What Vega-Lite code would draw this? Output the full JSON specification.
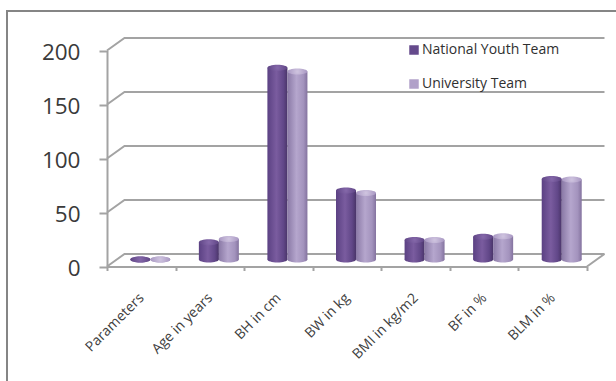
{
  "$schema": "https://vega.github.io/schema/vega-lite/v6.json",
  "width": 620,
  "height": 380,
  "autosize": {"type": "none"},
  "padding": {"left": 7, "top": 11, "right": 0, "bottom": 0},
  "background": "white",
  "config": {
    "view": {"stroke": "#858585", "strokeWidth": 2},
    "font": "Open Sans"
  },
  "datasets": {
    "scores": [
      {"parameter": "Parameters", "team": "National Youth Team", "value": 0},
      {"parameter": "Age in years", "team": "National Youth Team", "value": 16},
      {"parameter": "BH in cm", "team": "National Youth Team", "value": 177.5},
      {"parameter": "BW in kg", "team": "National Youth Team", "value": 64},
      {"parameter": "BMI in kg/m2", "team": "National Youth Team", "value": 18},
      {"parameter": "BF in %", "team": "National Youth Team", "value": 21},
      {"parameter": "BLM in %", "team": "National Youth Team", "value": 74.5},
      {"parameter": "Parameters", "team": "University Team", "value": 0},
      {"parameter": "Age in years", "team": "University Team", "value": 19},
      {"parameter": "BH in cm", "team": "University Team", "value": 174},
      {"parameter": "BW in kg", "team": "University Team", "value": 61.5},
      {"parameter": "BMI in kg/m2", "team": "University Team", "value": 18},
      {"parameter": "BF in %", "team": "University Team", "value": 21.5},
      {"parameter": "BLM in %", "team": "University Team", "value": 74}
    ],
    "walls": [
      {"line": "g0", "pos": 0, "level": 0}, {"line": "g0", "pos": 0.255, "level": 11.57}, {"line": "g0", "pos": 7.255, "level": 11.57},
      {"line": "g50", "pos": 0, "level": 50}, {"line": "g50", "pos": 0.255, "level": 61.57}, {"line": "g50", "pos": 7.255, "level": 61.57},
      {"line": "g100", "pos": 0, "level": 100}, {"line": "g100", "pos": 0.255, "level": 111.57}, {"line": "g100", "pos": 7.255, "level": 111.57},
      {"line": "g150", "pos": 0, "level": 150}, {"line": "g150", "pos": 0.255, "level": 161.57}, {"line": "g150", "pos": 7.255, "level": 161.57},
      {"line": "g200", "pos": 0, "level": 200}, {"line": "g200", "pos": 0.255, "level": 211.57}, {"line": "g200", "pos": 7.255, "level": 211.57},
      {"line": "floor", "pos": 7, "level": 0}, {"line": "floor", "pos": 7.255, "level": 11.57}
    ]
  },
  "resolve": {"scale": {"x": "independent"}, "axis": {"x": "independent"}},
  "layer": [
    {
      "data": {"name": "walls"},
      "mark": {"type": "line", "stroke": "#a3a3a3", "strokeWidth": 2},
      "encoding": {
        "x": {"field": "pos", "type": "quantitative", "axis": null, "scale": {"domain": [0, 7], "range": [100, 580], "nice": false, "zero": false}},
        "y": {
          "field": "level", "type": "quantitative",
          "scale": {"domain": [0, 200], "range": [255.5, 39.5], "nice": false},
          "axis": {
            "title": null, "values": [0, 50, 100, 150, 200], "offset": -100, "grid": false,
            "domainColor": "#a3a3a3", "domainWidth": 2, "tickColor": "#a3a3a3", "tickWidth": 2, "tickSize": 8,
            "labelFontSize": 22.5, "labelColor": "#3a3a3a", "labelPadding": 19, "labelFont": "Open Sans", "labelOffset": 2
          }
        },
        "detail": {"field": "line"}
      }
    },
    {
      "data": {"name": "scores"},
      "encoding": {
        "x": {
          "field": "parameter", "type": "nominal", "sort": null,
          "scale": {"range": [100, 580], "paddingInner": 0, "paddingOuter": 0},
          "axis": {
            "title": null, "offset": -124.5, "labelAngle": -45, "labelAlign": "right", "labelBaseline": "middle",
            "labelFontSize": 14, "labelColor": "#404040", "labelPadding": 25, "labelFont": "Open Sans", "labelLimit": 200,
            "domainColor": "#a3a3a3", "domainWidth": 2, "tickColor": "#a3a3a3", "tickWidth": 2, "tickSize": 4,
            "tickBand": "extent"
          }
        }
      },
      "layer": [
        {
          "transform": [{"filter": "datum.team === 'National Youth Team'"}],
          "mark": {"type": "bar", "width": 19, "xOffset": -1, "yOffset": -7, "y2Offset": -7},
          "encoding": {
            "y": {"field": "value", "type": "quantitative"},
            "color": {
              "field": "team", "type": "nominal",
              "scale": {"domain": ["National Youth Team", "University Team"], "range": ["#654a8c", "#b1a1c9"]},
              "legend": {
                "title": null, "orient": "none", "legendX": 400, "legendY": 32, "symbolType": "square", "symbolSize": 90,
                "labelFontSize": 14, "labelColor": "#303030", "labelFont": "Open Sans", "rowPadding": 20, "labelLimit": 200, "symbolStrokeWidth": 0,
                "labelOffset": 1
              }
            }
          }
        },
        {
          "transform": [{"filter": "datum.team === 'National Youth Team'"}],
          "mark": {
            "type": "point", "shape": "M-1,0A1,0.3,0,1,1,1,0A1,0.3,0,1,1,-1,0Z", "size": 400, "filled": true, "opacity": 1, "xOffset": -1, "yOffset": -7,
            "fill": {"gradient": "linear", "x1": 0, "y1": 0, "x2": 1, "y2": 0, "stops": [
              {"offset": 0, "color": "#5b4183"}, {"offset": 0.45, "color": "#7a5c9f"}, {"offset": 0.8, "color": "#614788"}, {"offset": 1, "color": "#4a3569"}
            ]}
          },
          "encoding": {"y": {"datum": 0}}
        },
        {
          "transform": [{"filter": "datum.team === 'National Youth Team'"}],
          "mark": {
            "type": "bar", "width": 20, "xOffset": -1, "yOffset": -7, "y2Offset": -7,
            "fill": {"gradient": "linear", "x1": 0, "y1": 0, "x2": 1, "y2": 0, "stops": [
              {"offset": 0, "color": "#5b4183"}, {"offset": 0.45, "color": "#7a5c9f"}, {"offset": 0.8, "color": "#614788"}, {"offset": 1, "color": "#4a3569"}
            ]}
          },
          "encoding": {"y": {"field": "value", "type": "quantitative"}}
        },
        {
          "transform": [{"filter": "datum.team === 'National Youth Team'"}],
          "mark": {
            "type": "point", "shape": "M-1,0A1,0.3,0,1,1,1,0A1,0.3,0,1,1,-1,0Z", "size": 400, "filled": true, "opacity": 1, "xOffset": -1, "yOffset": -7,
            "fill": {"gradient": "radial", "stops": [{"offset": 0, "color": "#8669ab"}, {"offset": 1, "color": "#5f4585"}]}
          },
          "encoding": {"y": {"field": "value", "type": "quantitative"}}
        },
        {
          "transform": [{"filter": "datum.team === 'University Team'"}],
          "mark": {
            "type": "point", "shape": "M-1,0A1,0.3,0,1,1,1,0A1,0.3,0,1,1,-1,0Z", "size": 400, "filled": true, "opacity": 1, "xOffset": 19, "yOffset": -7,
            "fill": {"gradient": "linear", "x1": 0, "y1": 0, "x2": 1, "y2": 0, "stops": [
              {"offset": 0, "color": "#8a79a6"}, {"offset": 0.45, "color": "#b5a6cd"}, {"offset": 0.8, "color": "#a393bd"}, {"offset": 1, "color": "#84739f"}
            ]}
          },
          "encoding": {"y": {"datum": 0}}
        },
        {
          "transform": [{"filter": "datum.team === 'University Team'"}],
          "mark": {
            "type": "bar", "width": 20, "xOffset": 19, "yOffset": -7, "y2Offset": -7,
            "fill": {"gradient": "linear", "x1": 0, "y1": 0, "x2": 1, "y2": 0, "stops": [
              {"offset": 0, "color": "#8a79a6"}, {"offset": 0.45, "color": "#b5a6cd"}, {"offset": 0.8, "color": "#a393bd"}, {"offset": 1, "color": "#84739f"}
            ]}
          },
          "encoding": {"y": {"field": "value", "type": "quantitative"}}
        },
        {
          "transform": [{"filter": "datum.team === 'University Team'"}],
          "mark": {
            "type": "point", "shape": "M-1,0A1,0.3,0,1,1,1,0A1,0.3,0,1,1,-1,0Z", "size": 400, "filled": true, "opacity": 1, "xOffset": 19, "yOffset": -7,
            "fill": {"gradient": "radial", "stops": [{"offset": 0, "color": "#d0c5e0"}, {"offset": 1, "color": "#a897c2"}]}
          },
          "encoding": {"y": {"field": "value", "type": "quantitative"}}
        }
      ]
    }
  ]
}
